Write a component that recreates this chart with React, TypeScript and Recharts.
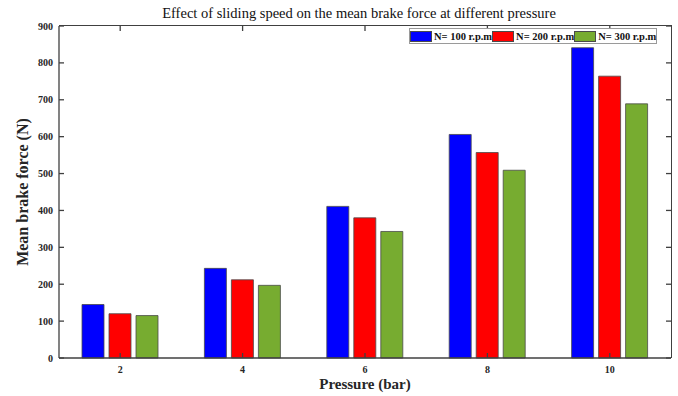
import { Bar, BarChart, Label, XAxis, YAxis } from 'recharts'

const pressures = ['2', '4', '6', '8', '10']
const rpm100 = [145, 243, 411, 606, 841]
const rpm200 = [120, 212, 380, 557, 764]
const rpm300 = [115, 197, 343, 509, 689]
const yTicks = [0, 100, 200, 300, 400, 500, 600, 700, 800, 900]

const SERIES = [
  { key: 'n100', name: 'N= 100 r.p.m', color: '#0000ff' },
  { key: 'n200', name: 'N= 200 r.p.m', color: '#ff0000' },
  { key: 'n300', name: 'N= 300 r.p.m', color: '#77ac30' },
]

const data = pressures.map((pressure, i) => ({
  pressure,
  n100: rpm100[i],
  n200: rpm200[i],
  n300: rpm300[i],
}))

const FONT = '"Liberation Serif", "Times New Roman", serif'
const AXIS_COLOR = '#404040'
const TEXT_COLOR = '#262626'

const CHART_W = 678
const CHART_H = 396
const MARGIN = { top: 26, right: 7, left: 0, bottom: 0 }
const Y_AXIS_W = 59
const X_AXIS_H = 38
const TICK_LEN = 5
const X_TICK_MARGIN = 13
const Y_TICK_MARGIN = 11

const PLOT_LEFT = MARGIN.left + Y_AXIS_W
const PLOT_W = CHART_W - PLOT_LEFT - MARGIN.right
const PLOT_H = CHART_H - MARGIN.top - MARGIN.bottom - X_AXIS_H

// label plus the matching inside tick on the top edge
function XTick({ x, y, payload }: any) {
  const axisY = y + TICK_LEN - X_TICK_MARGIN
  const topY = axisY - PLOT_H
  return (
    <g>
      <line x1={x} x2={x} y1={topY} y2={topY + TICK_LEN} stroke={AXIS_COLOR} strokeWidth={1.3} />
      <text x={x} y={y} dy="0.71em" textAnchor="middle" fontFamily={FONT} fontWeight="bold" fontSize={10} fill={TEXT_COLOR}>
        {payload.value}
      </text>
    </g>
  )
}

// label plus the matching inside tick on the right edge
function YTick({ x, y, payload }: any) {
  const axisX = x - TICK_LEN + Y_TICK_MARGIN
  const rightX = axisX + PLOT_W
  return (
    <g>
      <line x1={rightX - TICK_LEN} x2={rightX} y1={y} y2={y} stroke={AXIS_COLOR} strokeWidth={1.3} />
      <text x={x} y={y} dy="0.35em" textAnchor="end" fontFamily={FONT} fontWeight="bold" fontSize={10} fill={TEXT_COLOR}>
        {payload.value}
      </text>
    </g>
  )
}

export default function App() {
  return (
    <div style={{ position: 'absolute', left: 0, top: 0, width: CHART_W, height: CHART_H, background: '#fff', fontFamily: FONT }}>
      <div
        style={{
          position: 'absolute',
          left: 0,
          width: 718,
          top: 4,
          textAlign: 'center',
          fontSize: 14.5,
          color: '#111',
          lineHeight: '18px',
        }}
      >
        Effect of sliding speed on the mean brake force at different pressure
      </div>
      <BarChart width={CHART_W} height={CHART_H} data={data} margin={MARGIN} barGap={5} barSize={22}>
        <XAxis
          dataKey="pressure"
          height={X_AXIS_H}
          stroke={AXIS_COLOR}
          strokeWidth={1.3}
          tickSize={-TICK_LEN}
          tickMargin={X_TICK_MARGIN}
          tick={<XTick />}
          interval={0}
        >
          <Label
            content={({ viewBox }: any) => (
              <text
                x={viewBox.x + viewBox.width / 2}
                y={viewBox.y + 31}
                textAnchor="middle"
                fontFamily={FONT}
                fontWeight="bold"
                fontSize={15}
                fill={TEXT_COLOR}
              >
                Pressure (bar)
              </text>
            )}
          />
        </XAxis>
        <YAxis
          width={Y_AXIS_W}
          domain={[0, 900]}
          ticks={yTicks}
          stroke={AXIS_COLOR}
          strokeWidth={1.3}
          tickSize={-TICK_LEN}
          tickMargin={Y_TICK_MARGIN}
          tick={<YTick />}
          interval={0}
        >
          <Label
            content={({ viewBox }: any) => {
              const cx = viewBox.x + 22
              const cy = viewBox.y + viewBox.height / 2
              return (
                <text
                  x={cx}
                  y={cy}
                  transform={`rotate(-90, ${cx}, ${cy})`}
                  textAnchor="middle"
                  dominantBaseline="central"
                  fontFamily={FONT}
                  fontWeight="bold"
                  fontSize={16}
                  fill={TEXT_COLOR}
                >
                  Mean brake force (N)
                </text>
              )
            }}
          />
        </YAxis>
        {SERIES.map((s) => (
          <Bar
            key={s.key}
            dataKey={s.key}
            name={s.name}
            fill={s.color}
            stroke="#4a4a4a"
            strokeWidth={0.8}
            isAnimationActive={false}
          />
        ))}
      </BarChart>
      {/* top and right edges of the axes box */}
      <div
        style={{
          position: 'absolute',
          left: PLOT_LEFT,
          top: MARGIN.top - 1,
          width: PLOT_W + 1,
          height: 1.3,
          background: AXIS_COLOR,
          zIndex: 2,
        }}
      />
      <div
        style={{
          position: 'absolute',
          left: PLOT_LEFT + PLOT_W - 0.5,
          top: MARGIN.top - 1,
          width: 1.3,
          height: PLOT_H + 1,
          background: AXIS_COLOR,
          zIndex: 2,
        }}
      />
      <div
        style={{
          position: 'absolute',
          left: 409,
          top: 28,
          width: 246,
          height: 14,
          border: '1px solid #9a9a9a',
          background: '#fff',
          display: 'flex',
          alignItems: 'center',
          justifyContent: 'space-around',
          fontSize: 10.5,
          fontWeight: 'bold',
          color: '#111',
          whiteSpace: 'nowrap',
          zIndex: 3,
        }}
      >
        {SERIES.map((s) => (
          <div key={s.key} style={{ display: 'flex', alignItems: 'center' }}>
            <span
              style={{
                display: 'inline-block',
                width: 20,
                height: 9,
                background: s.color,
                border: '1px solid #4a4a4a',
                marginRight: 2,
              }}
            />
            <span>{s.name}</span>
          </div>
        ))}
      </div>
    </div>
  )
}
